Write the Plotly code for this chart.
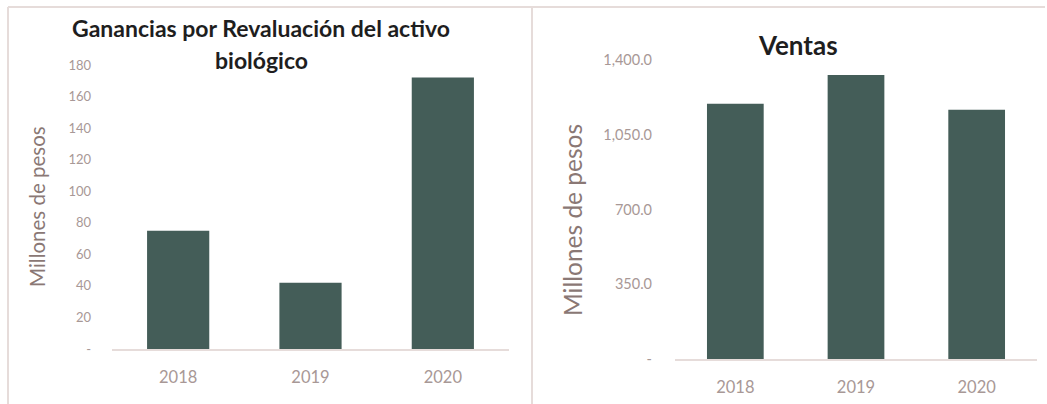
import plotly.graph_objects as go

W, H = 1047, 404

years = ["2018", "2019", "2020"]
ganancias = [75, 42, 172]
ventas = [1195, 1330, 1167]

left_tickvals = [0, 20, 40, 60, 80, 100, 120, 140, 160, 180]
left_ticktext = ["-", "20", "40", "60", "80", "100", "120", "140", "160", "180"]
right_tickvals = [0, 350, 700, 1050, 1400]
right_ticktext = ["-", "350.0", "700.0", "1,050.0", "1,400.0"]

BAR = "#445d58"
TICK = "#a89896"
AXTITLE = "#8a7875"
LINE = "#e6dcda"
FONT = "Lato"


def px(x):
    return x / W


def py(y):
    return (H - y) / H


fig = go.Figure()
fig.add_trace(go.Bar(x=years, y=ganancias, marker=dict(color=BAR, line=dict(width=0)),
                     xaxis="x", yaxis="y", showlegend=False))
fig.add_trace(go.Bar(x=years, y=ventas, marker=dict(color=BAR, line=dict(width=0)),
                     xaxis="x2", yaxis="y2", showlegend=False))

common_x = dict(showgrid=False, zeroline=False, showline=True, linecolor=LINE, linewidth=2,
                ticks="", tickfont=dict(family=FONT, size=16.5, color=TICK), ticklabelstandoff=12,
                automargin=False)
common_y = dict(showgrid=False, zeroline=False, showline=False, ticks="", automargin=False)

fig.update_layout(
    width=W, height=H,
    margin=dict(l=0, r=0, t=0, b=0, pad=0, autoexpand=False),
    paper_bgcolor="white", plot_bgcolor="white",
    bargap=0.53,
    xaxis=dict(domain=[px(112), px(509)], anchor="y", **common_x),
    yaxis=dict(domain=[py(349), py(65)], anchor="x", range=[0, 180],
               tickvals=left_tickvals, ticktext=left_ticktext,
               tickfont=dict(family=FONT, size=13, color=TICK), ticklabelstandoff=20,
               **common_y),
    xaxis2=dict(domain=[px(675), px(1037)], anchor="y2", **common_x),
    yaxis2=dict(domain=[py(359), py(60)], anchor="x2", range=[0, 1400],
                tickvals=right_tickvals, ticktext=right_ticktext,
                tickfont=dict(family=FONT, size=14.5, color=TICK), ticklabelstandoff=22,
                **common_y),
)

annotations = [
    dict(text="<b>Ganancias por Revaluación del activo</b>",
         x=px(261), y=py(28), font=dict(family=FONT, size=23, color="#1e1e1e")),
    dict(text="<b>biológico</b>",
         x=px(261), y=py(60), font=dict(family=FONT, size=23, color="#1e1e1e")),
    dict(text="<b>Ventas</b>", x=px(798), y=py(45),
         font=dict(family=FONT, size=26, color="#1e1e1e")),
    dict(text="Millones de pesos", x=px(37), y=py(207), textangle=-90,
         font=dict(family=FONT, size=20.5, color=AXTITLE)),
    dict(text="Millones de pesos", x=px(572), y=py(220), textangle=-90,
         font=dict(family=FONT, size=24.5, color=AXTITLE)),
]
for a in annotations:
    a.update(xref="paper", yref="paper", showarrow=False, xanchor="center", yanchor="middle")
fig.update_layout(annotations=annotations)

shapes = [
    dict(type="line", xref="paper", yref="paper", x0=px(8), x1=px(1045), y0=py(7), y1=py(7),
         line=dict(color=LINE, width=2)),
    dict(type="line", xref="paper", yref="paper", x0=px(8), x1=px(8), y0=py(7), y1=0,
         line=dict(color=LINE, width=2)),
    dict(type="line", xref="paper", yref="paper", x0=px(532), x1=px(532), y0=py(7), y1=0,
         line=dict(color=LINE, width=2)),
]
fig.update_layout(shapes=shapes)

fig.write_html("out.html")
